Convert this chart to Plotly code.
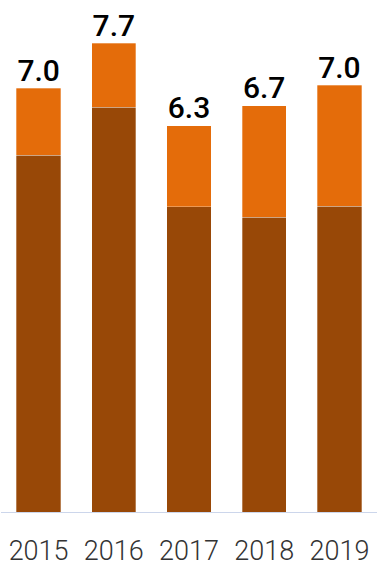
import plotly.graph_objects as go

years = ["2015", "2016", "2017", "2018", "2019"]
base_values = [5.87, 6.66, 5.02, 4.85, 5.03]
top_values = [1.10, 1.05, 1.33, 1.83, 1.99]
total_labels = ["7.0", "7.7", "6.3", "6.7", "7.0"]

totals = [a + b for a, b in zip(base_values, top_values)]

dark = "#984807"
orange = "#E46C0A"

fig = go.Figure()
fig.add_trace(go.Bar(x=years, y=base_values, marker=dict(color=dark, line=dict(color="rgba(255,255,255,0.5)", width=0.6)),
                     hoverinfo="skip", showlegend=False))
fig.add_trace(go.Bar(x=years, y=top_values, marker=dict(color=orange, line=dict(color="rgba(255,255,255,0.5)", width=0.6)),
                     hoverinfo="skip", showlegend=False))
fig.add_trace(go.Scatter(x=years, y=totals, mode="text", text=total_labels, textposition="top center",
                         textfont=dict(family="Roboto", size=30, color="#000000", weight=500),
                         cliponaxis=False, showlegend=False, hoverinfo="skip"))

fig.update_layout(
    width=377, height=567,
    margin=dict(l=1, r=0, t=0, b=55),
    barmode="stack",
    bargap=0.41,
    plot_bgcolor="white",
    paper_bgcolor="white",
    showlegend=False,
    xaxis=dict(showline=True, linecolor="#ccd6eb", linewidth=1, ticks="outside", ticklen=15,
               tickcolor="rgba(0,0,0,0)", showgrid=False, zeroline=False,
               tickfont=dict(family="Roboto", size=27, color="#333333", weight=300)),
    yaxis=dict(range=[0, 8.42], visible=False, showgrid=False, zeroline=False),
)

fig.write_html("out.html")
